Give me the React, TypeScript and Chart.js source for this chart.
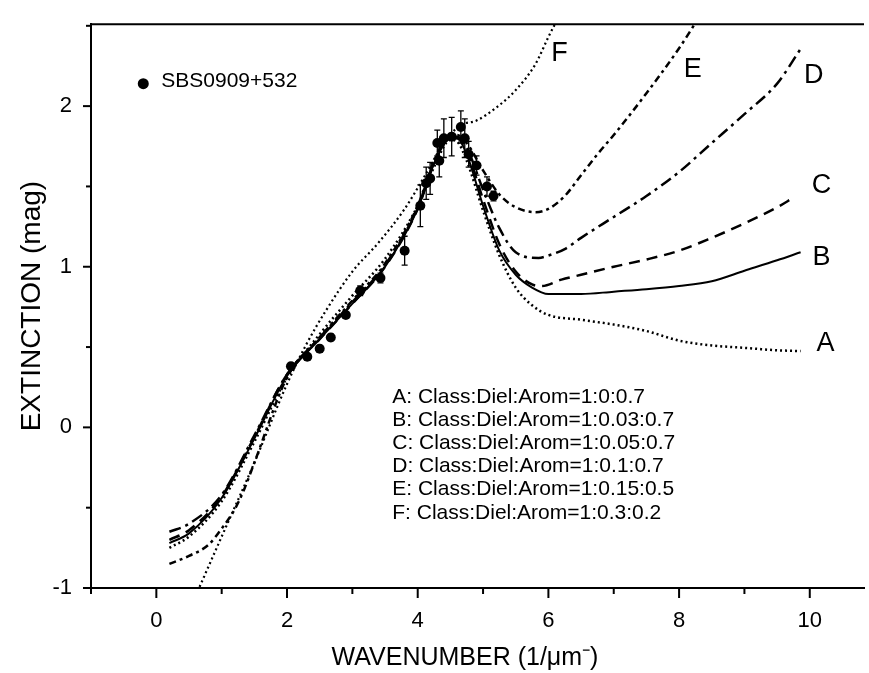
import React, { useEffect, useRef } from "react";
import { Chart, registerables } from "chart.js";
Chart.register(...registerables);

// ---- Data ----
const xA = [0.2, 0.5, 1.0, 1.5, 2.0, 2.5, 3.0, 3.5, 4.0, 4.25, 4.5, 4.6, 4.75, 5.0, 5.25, 5.5, 5.75, 6.0, 6.5, 7.0, 7.5, 8.0, 8.5, 9.0, 9.5, 9.86];
const yA = [-0.75, -0.68, -0.46, -0.09, 0.31, 0.58, 0.82, 1.05, 1.38, 1.62, 1.79, 1.78, 1.66, 1.35, 1.07, 0.87, 0.76, 0.70, 0.67, 0.64, 0.60, 0.54, 0.51, 0.495, 0.48, 0.475];

const xB = [0.2, 0.5, 1.0, 1.5, 2.0, 2.5, 3.0, 3.5, 4.0, 4.25, 4.5, 4.6, 4.75, 5.0, 5.25, 5.5, 5.75, 6.0, 6.5, 7.0, 7.5, 8.0, 8.5, 9.0, 9.5, 9.86];
const yB = [-0.72, -0.66, -0.44, -0.07, 0.32, 0.55, 0.77, 1.0, 1.36, 1.64, 1.80, 1.80, 1.70, 1.38, 1.10, 0.95, 0.87, 0.83, 0.83, 0.845, 0.86, 0.88, 0.91, 0.975, 1.04, 1.09];

const xC = [0.2, 0.5, 1.0, 1.5, 2.0, 2.5, 3.0, 3.5, 4.0, 4.25, 4.5, 4.6, 4.75, 5.0, 5.25, 5.5, 5.75, 5.9, 6.2, 6.5, 7.0, 7.5, 8.0, 8.5, 9.0, 9.5, 9.75];
const yC = [-0.70, -0.64, -0.43, -0.06, 0.33, 0.55, 0.77, 1.0, 1.36, 1.64, 1.80, 1.80, 1.72, 1.42, 1.14, 0.97, 0.89, 0.88, 0.92, 0.95, 1.0, 1.045, 1.10, 1.18, 1.27, 1.37, 1.43];

const xD = [0.2, 0.5, 1.0, 1.5, 2.0, 2.5, 3.0, 3.5, 4.0, 4.25, 4.5, 4.6, 4.75, 5.0, 5.25, 5.5, 5.85, 6.0, 6.25, 6.5, 7.0, 7.5, 8.0, 8.5, 9.0, 9.5, 9.85];
const yD = [-0.65, -0.60, -0.42, -0.05, 0.33, 0.56, 0.78, 1.01, 1.37, 1.65, 1.81, 1.81, 1.74, 1.48, 1.24, 1.09, 1.055, 1.07, 1.11, 1.18, 1.31, 1.44, 1.59, 1.77, 1.95, 2.14, 2.35];

const xE = [0.2, 0.5, 0.8, 1.0, 1.2, 1.35, 1.5, 2.0, 2.5, 3.0, 3.5, 4.0, 4.25, 4.5, 4.6, 4.75, 5.0, 5.25, 5.5, 5.8, 6.0, 6.25, 6.5, 6.75, 7.0, 7.5, 8.0, 8.3];
const yE = [-0.85, -0.80, -0.73, -0.63, -0.51, -0.38, -0.22, 0.31, 0.56, 0.79, 1.02, 1.38, 1.66, 1.82, 1.82, 1.77, 1.60, 1.45, 1.37, 1.34, 1.36, 1.44, 1.57, 1.70, 1.82, 2.08, 2.36, 2.55];

const xF = [0.6, 1.0, 1.5, 2.0, 2.3, 2.6, 3.0, 3.4, 3.8, 4.1, 4.4, 4.65, 4.9, 5.2, 5.5, 5.8, 6.0, 6.15];
const yF = [-1.05, -0.68, -0.22, 0.27, 0.52, 0.73, 0.97, 1.15, 1.36, 1.56, 1.77, 1.88, 1.91, 1.99, 2.1, 2.26, 2.43, 2.55];

// Observed SBS0909+532 extinction
const obsX = [2.06, 2.31, 2.50, 2.67, 2.90, 3.12, 3.43, 3.80, 4.04, 4.13, 4.19, 4.30, 4.33, 4.40, 4.52, 4.66, 4.72, 4.78, 4.90, 5.06, 5.16];
const obsY = [0.38, 0.44, 0.49, 0.56, 0.70, 0.85, 0.93, 1.10, 1.38, 1.52, 1.55, 1.77, 1.66, 1.80, 1.81, 1.87, 1.80, 1.70, 1.63, 1.50, 1.44];
const obsErr = [0.02, 0.02, 0.02, 0.02, 0.02, 0.03, 0.03, 0.09, 0.13, 0.1, 0.1, 0.08, 0.1, 0.12, 0.12, 0.1, 0.12, 0.08, 0.06, 0.06, 0.03];

const xTickLabels = [0, 2, 4, 6, 8, 10];
const yTickLabels = [-1, 0, 1, 2];

const curveNames = ["A", "B", "C", "D", "E", "F"];
const legendLines = [
  "A: Class:Diel:Arom=1:0:0.7",
  "B: Class:Diel:Arom=1:0.03:0.7",
  "C: Class:Diel:Arom=1:0.05:0.7",
  "D: Class:Diel:Arom=1:0.1:0.7",
  "E: Class:Diel:Arom=1:0.15:0.5",
  "F: Class:Diel:Arom=1:0.3:0.2",
];
const curveLabelAt: [number, number][] = [
  [10.24, 0.52],
  [10.18, 1.056],
  [10.18, 1.506],
  [10.06, 2.19],
  [8.21, 2.23],
  [6.17, 2.33],
];

const FONT = "'Liberation Sans', Arial, Helvetica, sans-serif";
const BLACK = "#000";

const pts = (xs: number[], ys: number[]) => xs.map((x, i) => ({ x, y: ys[i] }));

export default function App() {
  const ref = useRef<HTMLCanvasElement | null>(null);

  useEffect(() => {
    if (!ref.current) return;

    const overlay = {
      id: "overlay",
      afterDatasetsDraw(chart: any) {
        const ctx = chart.ctx;
        const xs = chart.scales.x;
        const ys = chart.scales.y;
        ctx.save();
        ctx.strokeStyle = BLACK;
        ctx.lineWidth = 1.3;
        obsX.forEach((x, i) => {
          const px = xs.getPixelForValue(x);
          const p1 = ys.getPixelForValue(obsY[i] + obsErr[i]);
          const p2 = ys.getPixelForValue(obsY[i] - obsErr[i]);
          ctx.beginPath();
          ctx.moveTo(px, p1);
          ctx.lineTo(px, p2);
          ctx.moveTo(px - 3, p1);
          ctx.lineTo(px + 3, p1);
          ctx.moveTo(px - 3, p2);
          ctx.lineTo(px + 3, p2);
          ctx.stroke();
        });
        ctx.restore();
      },
      afterDraw(chart: any) {
        const ctx = chart.ctx;
        const xs = chart.scales.x;
        const ys = chart.scales.y;
        const { left, right, top, bottom } = chart.chartArea;
        ctx.save();
        ctx.strokeStyle = BLACK;
        ctx.fillStyle = BLACK;
        ctx.lineWidth = 2;
        ctx.beginPath();
        ctx.moveTo(left - 1, top);
        ctx.lineTo(right, top);
        ctx.stroke();
        for (let v = -1; v <= 10; v++) {
          const px = xs.getPixelForValue(v);
          const len = v % 2 === 0 ? 10 : 6;
          ctx.beginPath();
          ctx.moveTo(px, bottom);
          ctx.lineTo(px, bottom + len);
          ctx.stroke();
        }
        for (let v = -1; v <= 2.5; v += 0.5) {
          const py = ys.getPixelForValue(v);
          const len = Number.isInteger(v) ? 8 : 5;
          ctx.beginPath();
          ctx.moveTo(left, py);
          ctx.lineTo(left - len, py);
          ctx.stroke();
        }
        ctx.textAlign = "center";
        ctx.textBaseline = "middle";
        ctx.font = `25px ${FONT}`;
        ctx.fillText("WAVENUMBER (1/\u03bcm\u207b)", 465, 658);
        ctx.save();
        ctx.translate(32, (top + bottom) / 2);
        ctx.rotate(-Math.PI / 2);
        ctx.font = `28px ${FONT}`;
        ctx.fillText("EXTINCTION (mag)", 0, 0);
        ctx.restore();
        ctx.font = `27px ${FONT}`;
        curveNames.forEach((n, i) => {
          const [lx, ly] = curveLabelAt[i];
          ctx.fillText(n, xs.getPixelForValue(lx), ys.getPixelForValue(ly));
        });
        ctx.font = `21px ${FONT}`;
        ctx.textAlign = "left";
        const lx0 = xs.getPixelForValue(3.61);
        const ly0 = ys.getPixelForValue(0.19);
        legendLines.forEach((t, i) => ctx.fillText(t, lx0, ly0 + i * 23.2));
        const dx = xs.getPixelForValue(-0.2);
        const dy = ys.getPixelForValue(2.14);
        ctx.beginPath();
        ctx.arc(dx, dy, 5.5, 0, Math.PI * 2);
        ctx.fill();
        ctx.font = `21px ${FONT}`;
        ctx.fillText("SBS0909+532", dx + 18, dy - 2);
        ctx.restore();
      },
    };

    const lineDs = (label: string, xs: number[], ys: number[], dash: number[], width: number) => ({
      label,
      data: pts(xs, ys),
      showLine: true,
      borderColor: BLACK,
      borderWidth: width,
      borderDash: dash,
      pointRadius: 0,
      fill: false,
      cubicInterpolationMode: "monotone",
    });

    const chart = new Chart(ref.current, {
      type: "scatter",
      data: {
        datasets: [
          lineDs("A", xA, yA, [2, 3], 2.5),
          lineDs("B", xB, yB, [], 2),
          lineDs("C", xC, yC, [11, 7], 2.5),
          lineDs("D", xD, yD, [12, 5, 3, 5], 2.5),
          lineDs("E", xE, yE, [7, 4, 3, 4], 2.5),
          lineDs("F", xF, yF, [2, 3], 2.2),
          {
            label: "SBS0909+532",
            data: pts(obsX, obsY),
            showLine: false,
            pointRadius: 5,
            pointBackgroundColor: BLACK,
            pointBorderColor: BLACK,
            borderWidth: 0,
          } as any,
        ] as any,
      },
      options: {
        animation: false,
        responsive: false,
        maintainAspectRatio: false,
        layout: { padding: { top: 19, right: 0, left: 0, bottom: 0 } },
        plugins: { legend: { display: false }, tooltip: { enabled: false } },
        scales: {
          x: {
            type: "linear",
            min: -1,
            max: 10.83,
            grid: { display: false },
            border: { display: true, color: BLACK, width: 2 },
            afterBuildTicks: (s: any) => {
              s.ticks = xTickLabels.map((v) => ({ value: v }));
            },
            afterFit: (s: any) => {
              s.height = 85;
            },
            ticks: {
              padding: 12,
              color: BLACK,
              font: { family: FONT, size: 22 },
              maxRotation: 0,
              autoSkip: false,
            },
          },
          y: {
            type: "linear",
            min: -1,
            max: 2.51,
            grid: { display: false },
            border: { display: true, color: BLACK, width: 2 },
            afterBuildTicks: (s: any) => {
              s.ticks = yTickLabels.map((v) => ({ value: v }));
            },
            afterFit: (s: any) => {
              s.width = 91;
            },
            ticks: {
              padding: 11,
              color: BLACK,
              font: { family: FONT, size: 22 },
            },
          },
        },
      } as any,
      plugins: [overlay],
    });
    return () => chart.destroy();
  }, []);

  return (
    <div style={{ position: "fixed", left: 0, top: 0, width: 869, height: 673, background: "#fff" }}>
      <canvas ref={ref} width={869} height={673} style={{ width: 869, height: 673, display: "block" }} />
    </div>
  );
}
